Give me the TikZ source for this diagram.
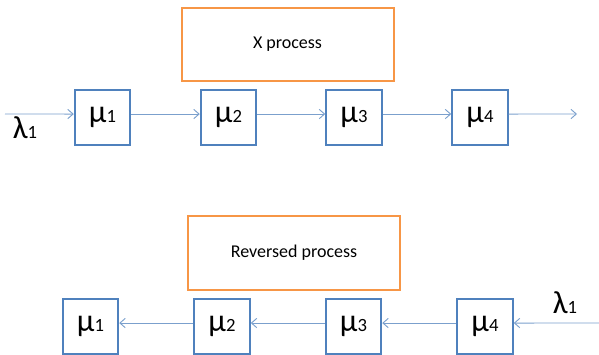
\documentclass[tikz,border=0pt]{standalone}
\usepackage{fontspec}
\setmainfont{Carlito}
\usetikzlibrary{arrows.meta}
\definecolor{boxblue}{HTML}{4F81BD}
\definecolor{lineblue}{HTML}{7BA0CD}
\definecolor{procorange}{HTML}{F79646}
\newcommand\rate[2]{{\fontsize{24}{24}\selectfont #1}{\fontsize{14}{14}\selectfont #2}}

\begin{document}
\begin{tikzpicture}[x=0.75pt,y=-0.75pt,
    server/.style={draw=boxblue, line width=1.6pt, minimum width=41.5pt, minimum height=41.5pt, inner sep=0pt},
    proc/.style={draw=procorange, line width=1.5pt, minimum width=159pt, minimum height=55pt, font=\fontsize{13.5}{15}\selectfont},
    flow/.style={draw=lineblue, line width=0.7pt, -{Straight Barb[length=4pt,width=7pt]}}]
    \useasboundingbox (0,0) rectangle (599,354);
    % forward queue
    \node[proc] (xproc) at (287.5,44.5) {X process};
    \node[server] (a1) at (102.5,117.5) {\rate{μ}{1}};
    \node[server] (a2) at (228.5,117.5) {\rate{μ}{2}};
    \node[server] (a3) at (354,117.5)   {\rate{μ}{3}};
    \node[server] (a4) at (480,117.5)   {\rate{μ}{4}};
    \coordinate (ain)  at (5,114);
    \coordinate (aout) at (577,114);
    \node (alam) at (25,128) {\rate{λ}{1}};
    \draw[flow] (ain) -- ([yshift=2.6pt]a1.west);
    \draw[flow] ([yshift=2.6pt]a1.east) -- ([yshift=2.6pt]a2.west);
    \draw[flow] ([yshift=2.6pt]a2.east) -- ([yshift=2.6pt]a3.west);
    \draw[flow] ([yshift=2.6pt]a3.east) -- ([yshift=2.6pt]a4.west);
    \draw[flow] ([yshift=2.6pt]a4.east) -- (aout);
    % reversed queue
    \node[proc] (rproc) at (294,253) {Reversed process};
    \node[server] (b1) at (90.5,326.5) {\rate{μ}{1}};
    \node[server] (b2) at (222,326.5)  {\rate{μ}{2}};
    \node[server] (b3) at (353.5,326.5) {\rate{μ}{3}};
    \node[server] (b4) at (485,326.5)  {\rate{μ}{4}};
    \coordinate (bin) at (599,323);
    \node (blam) at (565,303) {\rate{λ}{1}};
    \draw[flow] (bin) -- ([yshift=2.6pt]b4.east);
    \draw[flow] ([yshift=2.6pt]b4.west) -- ([yshift=2.6pt]b3.east);
    \draw[flow] ([yshift=2.6pt]b3.west) -- ([yshift=2.6pt]b2.east);
    \draw[flow] ([yshift=2.6pt]b2.west) -- ([yshift=2.6pt]b1.east);
\end{tikzpicture}
\end{document}
